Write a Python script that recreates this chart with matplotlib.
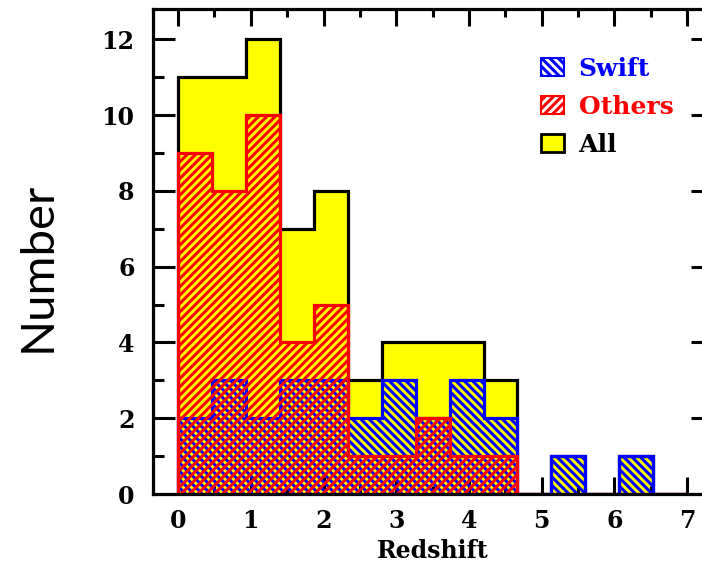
import numpy as np
import matplotlib
matplotlib.use("Agg")
import matplotlib.pyplot as plt
from matplotlib.patches import Patch

# ---- data ----
z_min, z_max, n_bins = 0.0, 7.0, 15
all_counts    = [11, 11, 12, 7, 8, 3, 4, 4, 4, 3, 0, 1, 0, 1, 0]
swift_counts  = [2, 3, 2, 3, 3, 2, 3, 2, 3, 2, 0, 1, 0, 1, 0]
others_counts = [9, 8, 10, 4, 5, 1, 1, 2, 1, 1, 0, 0, 0, 0, 0]
labels = ["Swift", "Others", "All"]
xticks = [0, 1, 2, 3, 4, 5, 6, 7]
yticks = [0, 2, 4, 6, 8, 10, 12]

edges = np.linspace(z_min, z_max, n_bins + 1)

plt.rcParams['hatch.linewidth'] = 2.2
W, H = 702, 563
fig = plt.figure(figsize=(W / 100, H / 100), dpi=100)
ax = fig.add_axes([152.6 / W, 69 / H, 560 / W, 485 / H])

lw = 2.3
ax.stairs(all_counts, edges, fill=True, facecolor='#ffff00', edgecolor='black',
          linewidth=lw, zorder=1)
ax.stairs(swift_counts, edges, fill=True, facecolor='none', edgecolor='#0000ff',
          hatch='\\\\\\\\', linewidth=lw, zorder=2)
ax.stairs(others_counts, edges, fill=True, facecolor='none', edgecolor='#ff0000',
          hatch='////', linewidth=lw, zorder=3)

ax.set_xlim(-0.35, 7.35)
ax.set_ylim(0, 12.8)

tickfont = dict(family='DejaVu Serif', weight='bold', size=17)
ax.set_xticks(xticks)
ax.set_xticks(np.arange(0.5, 7.5, 1.0), minor=True)
ax.set_yticks(yticks)
ax.set_yticks(np.arange(1, 13, 2), minor=True)
ax.set_xticklabels([str(v) for v in xticks], fontdict=tickfont)
ax.set_yticklabels([str(v) for v in yticks], fontdict=tickfont)
ax.tick_params(axis='both', which='both', direction='in', top=True, right=True,
               width=2.2, color='black')
ax.tick_params(axis='x', which='major', length=12, pad=11)
ax.tick_params(axis='x', which='minor', length=6)
ax.tick_params(axis='y', which='major', length=16, pad=13)
ax.tick_params(axis='y', which='minor', length=8)
for s in ax.spines.values():
    s.set_linewidth(2.3)
    s.set_zorder(5)

ax.set_xlabel("Redshift", fontdict=dict(family='DejaVu Serif', weight='bold', size=17),
              labelpad=4)

fig.text(38 / W, 1 - 267 / H, "Number", rotation=90, ha='center', va='center',
         family='Lato', fontsize=34)

handles = [
    Patch(facecolor='white', edgecolor='#0000ff', hatch='\\\\\\\\', linewidth=1.5),
    Patch(facecolor='white', edgecolor='#ff0000', hatch='////', linewidth=1.5),
    Patch(facecolor='#ffff00', edgecolor='black', linewidth=2.0),
]
leg = fig.legend(handles, labels, loc='upper left',
                 bbox_to_anchor=(541 / W, 1 - 57 / H),
                 frameon=False, borderpad=0, borderaxespad=0,
                 handlelength=0.9, handleheight=0.75, handletextpad=0.6,
                 labelspacing=0.55,
                 labelcolor=['#0000ff', '#ff0000', 'black'],
                 prop=dict(family='DejaVu Serif', weight='bold', size=18))

fig.savefig("out.png", dpi=100)
